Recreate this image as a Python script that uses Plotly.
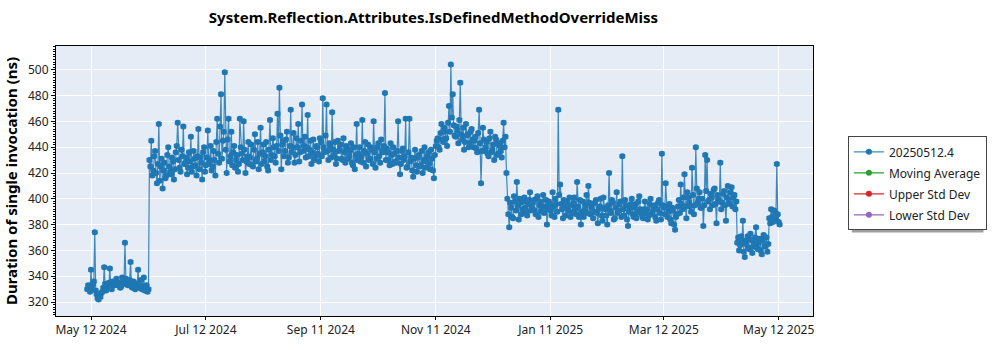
import pandas as pd
import plotly.graph_objects as go

# ---------------- data ----------------
start_date = "2024-05-10"

# first run of each day
may24 = [330, 332, 345, 334, 374, 326, 322, 324, 328, 347, 329, 333, 346, 330, 334,
         336, 333, 335, 332, 337, 366, 336]
jun24 = [334, 351, 331, 335, 332, 345, 333, 330, 339, 331, 328, 430, 445, 422, 437,
         412, 458, 425, 408, 428, 418, 440, 421, 432, 415, 436, 459, 424, 438, 456]
jul24 = [428, 419, 436, 448, 425, 431, 418, 454, 432, 415, 440, 426, 453, 430, 422,
         437, 418, 462, 428, 481, 445, 498, 420, 462, 433, 426, 441, 430, 421, 462, 435]
aug24 = [460, 420, 433, 427, 442, 425, 450, 431, 423, 455, 436, 429, 444, 422, 461,
         434, 440, 428, 466, 486, 423, 445, 437, 452, 432, 469, 440, 428, 447, 458, 436]
sep24 = [473, 441, 432, 465, 438, 427, 446, 433, 440, 429, 444, 478, 436, 473, 430,
         441, 467, 434, 427, 445, 438, 431, 447, 428, 439, 433, 443, 426, 423, 458]
oct24 = [435, 429, 461, 437, 425, 442, 431, 438, 460, 424, 440, 433, 446, 436, 482,
         439, 430, 443, 427, 435, 428, 460, 419, 437, 430, 462, 425, 462, 432, 417, 438]
nov24 = [421, 434, 426, 420, 440, 429, 436, 423, 431, 416, 441, 447, 438, 458, 444,
         452, 441, 472, 504, 481, 449, 456, 443, 490, 446, 438, 458, 450, 443, 454]
dec24 = [440, 448, 436, 469, 412, 455, 437, 444, 433, 452, 438, 430, 446, 435, 441,
         432, 459, 448, 400, 378, 393, 385, 398, 413, 384, 397, 392, 401, 389, 396, 405]
jan25 = [393, 399, 388, 402, 395, 390, 403, 394, 380, 398, 391, 405, 386, 396, 469,
         411, 392, 399, 387, 395, 401, 389, 397, 392, 413, 386, 380, 398, 391, 403, 410]
feb25 = [388, 396, 390, 399, 381, 394, 387, 401, 392, 380, 420, 389, 397, 385, 405,
         391, 398, 433, 387, 395, 379, 393, 400, 386, 396, 389, 402, 391]
mar25 = [385, 398, 392, 387, 400, 390, 395, 383, 397, 389, 435, 393, 412, 386, 396,
         381, 391, 376, 388, 399, 411, 392, 419, 385, 401, 394, 424, 388, 440, 397, 405]
apr25 = [393, 379, 434, 430, 399, 404, 395, 408, 381, 400, 428, 397, 406, 383, 410,
         396, 409, 401, 392, 366, 360, 371, 383, 355, 368, 362, 373, 358, 366, 378]
may25 = [361, 369, 357, 372, 364, 359, 385, 392, 382, 390, 427, 382]

# second run of each day (midday)
may24b = [333, 328, 331, 336, 329, 323, 325, 327, 331, 334, 330, 335, 332, 336, 333,
          338, 335, 331, 339, 334, 338, 333]
jun24b = [337, 332, 336, 330, 334, 331, 337, 332, 329, 333, 330, 425, 418, 433, 420,
          427, 414, 431, 422, 416, 434, 425, 419, 429, 423, 441, 430, 421, 433, 427]
jul24b = [432, 424, 429, 421, 437, 426, 433, 423, 428, 436, 421, 432, 427, 441, 425,
          430, 444, 435, 456, 431, 452, 438, 446, 429, 452, 436, 424, 434, 427, 440, 430]
aug24b = [438, 429, 444, 432, 426, 438, 429, 444, 435, 427, 442, 433, 425, 438, 430,
          447, 433, 441, 437, 449, 442, 433, 446, 428, 441, 436, 451, 434, 440, 429, 445]
sep24b = [437, 448, 440, 433, 445, 436, 430, 441, 435, 447, 433, 440, 449, 437, 443,
          432, 438, 444, 431, 437, 442, 430, 436, 441, 431, 437, 428, 440, 434, 430]
oct24b = [440, 433, 428, 444, 435, 430, 440, 427, 436, 431, 443, 428, 437, 441, 430,
          436, 426, 434, 440, 429, 437, 432, 427, 439, 433, 424, 436, 429, 422, 431, 426]
nov24b = [432, 425, 437, 430, 424, 433, 427, 438, 422, 434, 445, 440, 451, 446, 455,
          447, 459, 452, 463, 457, 448, 453, 461, 450, 455, 444, 449, 440, 452, 446]
dec24b = [445, 439, 451, 443, 437, 446, 440, 435, 447, 436, 442, 448, 434, 443, 437,
          445, 440, 420, 388, 397, 386, 402, 391, 395, 400, 388, 398, 393, 387, 399, 391]
jan25b = [397, 391, 400, 386, 398, 393, 389, 399, 392, 396, 387, 394, 400, 390, 403,
          396, 385, 393, 398, 391, 386, 395, 401, 388, 394, 399, 390, 386, 395, 389, 397]
feb25b = [393, 385, 397, 389, 392, 400, 383, 393, 387, 395, 391, 399, 384, 393, 389,
          396, 386, 392, 399, 384, 390, 396, 388, 393, 385, 398, 392, 387]
mar25b = [392, 389, 384, 396, 388, 393, 386, 392, 399, 384, 395, 388, 394, 390, 384,
          393, 380, 386, 394, 389, 396, 401, 394, 405, 397, 390, 403, 395, 408, 400, 393]
apr25b = [400, 395, 406, 398, 392, 401, 407, 396, 403, 398, 392, 404, 395, 401, 399,
          405, 394, 403, 398, 370, 364, 367, 359, 365, 371, 361, 368, 363, 370, 362]
may25b = [366, 360, 368, 363, 370, 365, 381, 386, 391, 384, 388, 380]

tick_dates = ["2024-05-12", "2024-07-12", "2024-09-11", "2024-11-11",
              "2025-01-11", "2025-03-12", "2025-05-12"]
tick_labels = ["May 12 2024", "Jul 12 2024", "Sep 11 2024", "Nov 11 2024",
               "Jan 11 2025", "Mar 12 2025", "May 12 2025"]
y_ticks = [320, 340, 360, 380, 400, 420, 440, 460, 480, 500]

series_name = "20250512.4"
extra_series = ["Moving Average", "Upper Std Dev", "Lower Std Dev"]
extra_colors = ["#2ca02c", "#d62728", "#9467bd"]

# ---------------- build table ----------------
run_a = may24 + jun24 + jul24 + aug24 + sep24 + oct24 + nov24 + dec24 + \
    jan25 + feb25 + mar25 + apr25 + may25
run_b = may24b + jun24b + jul24b + aug24b + sep24b + oct24b + nov24b + dec24b + \
    jan25b + feb25b + mar25b + apr25b + may25b
days = pd.date_range(start_date, periods=len(run_a), freq="D")
df = pd.concat([
    pd.DataFrame({"t": days, "v": run_a}),
    pd.DataFrame({"t": days[:len(run_b)] + pd.Timedelta(hours=12), "v": run_b}),
]).sort_values("t")

FONT = "Noto Sans"

fig = go.Figure()
fig.add_trace(go.Scatter(
    x=df["t"], y=df["v"], name=series_name, mode="lines+markers", legendgroup="a",
    line=dict(color="rgba(31,119,180,0.85)", width=1.2),
    marker=dict(color="#1f77b4", size=6),
    error_y=dict(type="constant", value=1.2, color="rgba(31,119,180,0.6)",
                 thickness=1, width=3),
))
for i, (nm, col) in enumerate(zip(extra_series, extra_colors)):
    fig.add_trace(go.Scatter(
        x=[None], y=[None], name=nm, mode="lines+markers", legendgroup="g%d" % i,
        line=dict(color=col, width=1.2), marker=dict(color=col, size=6),
    ))

L, R, T, B = 54, 187, 46, 32
W, H = 1000, 350
pw, ph = W - L - R, H - T - B

def px(xp):
    return (xp - L) / pw

def py(yp):
    return (H - B - yp) / ph

fig.update_layout(
    width=W, height=H,
    margin=dict(l=L, r=R, t=T, b=B),
    paper_bgcolor="white", plot_bgcolor="#E5ECF6",
    font=dict(family=FONT, size=12, color="#222"),
    title=dict(text="<b>System.Reflection.Attributes.IsDefinedMethodOverrideMiss</b>",
               x=(L + pw / 2) / W, xanchor="center", y=1 - 18 / H, yanchor="middle",
               font=dict(family=FONT, size=15, color="black")),
    showlegend=True,
    legend=dict(x=px(848), xanchor="left", y=py(137), yanchor="top",
                bgcolor="white", bordercolor="#444", borderwidth=1,
                font=dict(family=FONT, size=12, color="#222"),
                tracegroupgap=2),
    shapes=[dict(type="rect", xref="paper", yref="paper",
                 x0=px(852), x1=px(984), y0=py(234), y1=py(141),
                 fillcolor="#a0a0a0", line=dict(width=0), layer="above")],
)

fig.update_xaxes(
    type="date", range=["2024-04-23 10:00", "2025-05-30 05:00"],
    tickvals=tick_dates, ticktext=tick_labels,
    showgrid=True, gridcolor="white", gridwidth=1.3,
    showline=True, linecolor="black", linewidth=1, mirror=True,
    ticks="outside", ticklen=3, tickcolor="black",
    tickfont=dict(family=FONT, size=12, color="#222"),
    zeroline=False,
)
fig.update_yaxes(
    range=[309.2, 518.4], tickvals=y_ticks,
    showgrid=True, gridcolor="white", gridwidth=1.3,
    showline=True, linecolor="black", linewidth=1, mirror=True,
    ticks="outside", ticklen=4, tickcolor="black",
    minor=dict(dtick=2, ticks="outside", ticklen=2, tickcolor="black", showgrid=False),
    tickfont=dict(family=FONT, size=12, color="#222"),
    title=dict(text="<b>Duration of single invocation (ns)</b>", standoff=6,
               font=dict(family=FONT, size=15, color="black")),
    zeroline=False,
)

fig.write_html("out.html")
